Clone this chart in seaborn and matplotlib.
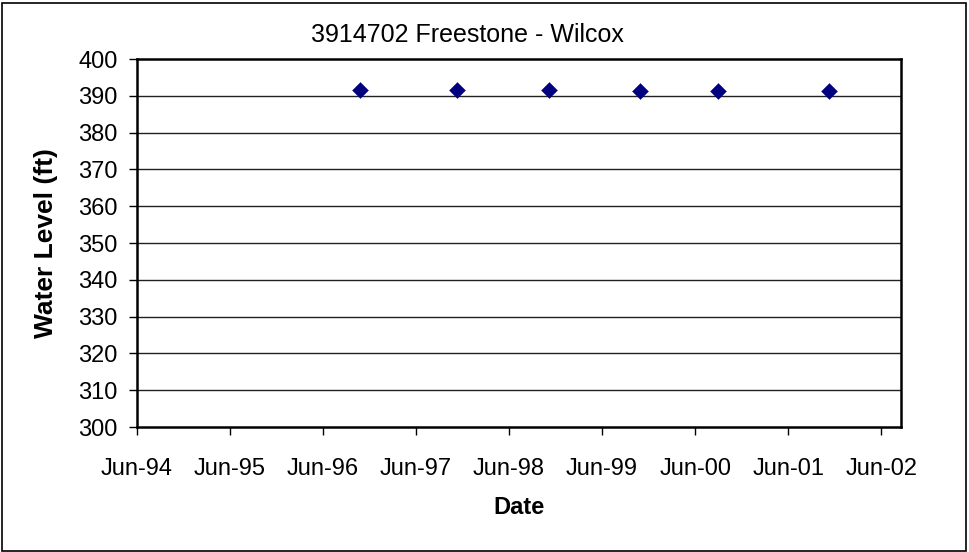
import matplotlib
matplotlib.use("Agg")
import matplotlib.pyplot as plt
import seaborn as sns
import pandas as pd
from matplotlib.patches import Rectangle

dates = ["1996-10-24", "1997-11-08", "1998-11-05", "1999-10-29", "2000-08-29", "2001-11-07"]
levels = [391.5, 391.5, 391.5, 391.3, 391.2, 391.2]
tick_dates = ["1994-06-01", "1995-06-01", "1996-06-01", "1997-06-01", "1998-06-01",
              "1999-06-01", "2000-06-01", "2001-06-01", "2002-06-01"]
tick_labels = ["Jun-94", "Jun-95", "Jun-96", "Jun-97", "Jun-98", "Jun-99", "Jun-00", "Jun-01", "Jun-02"]
x_end = "2002-08-18"
y_ticks = list(range(300, 401, 10))

df = pd.DataFrame({"Date": pd.to_datetime(dates), "Level": levels})

sns.set_style("white")
plt.rcParams["font.family"] = ["Liberation Sans", "DejaVu Sans"]
plt.rcParams["text.color"] = "black"
plt.rcParams["axes.labelcolor"] = "black"
plt.rcParams["xtick.color"] = "black"
plt.rcParams["ytick.color"] = "black"

W, H = 969, 552
fig = plt.figure(figsize=(W / 100, H / 100), dpi=100)
L, R, T, B = 137, 901, 59, 427
ax = fig.add_axes([L / W, 1 - B / H, (R - L) / W, (B - T) / H])

sns.scatterplot(data=df, x="Date", y="Level", marker="D", s=66, color="#000080",
                edgecolor="#000080", linewidth=0.3, ax=ax, zorder=3, legend=False)

td = pd.to_datetime(tick_dates)
ax.set_xlim(td[0], pd.to_datetime(x_end))
ax.set_ylim(300, 400)
ax.set_xticks(td)
ax.set_xticklabels(tick_labels)
ax.set_yticks(y_ticks)
for y in y_ticks[1:-1]:
    ax.axhline(y, color="#222222", linewidth=1.0, zorder=1)

for s in ["top", "right", "left", "bottom"]:
    ax.spines[s].set_visible(True)
    ax.spines[s].set_color("black")
    ax.spines[s].set_linewidth(1.8)

ax.tick_params(axis="y", direction="out", length=6, width=1, labelsize=17, left=True, pad=8)
ax.tick_params(axis="x", direction="out", length=5.5, width=1, labelsize=17, bottom=True, pad=17)

ax.set_xlabel("Date", fontsize=17, fontweight="bold")
ax.set_ylabel("Water Level (ft)", fontsize=19, fontweight="bold")
ax.xaxis.label.set_va("center")
ax.yaxis.label.set_va("center")
ax.xaxis.set_label_coords((519 - L) / (R - L), (B - 507) / (B - T))
ax.yaxis.set_label_coords((46 - L) / (R - L), 0.5)

fig.text(467.5 / W, 1 - 35 / H, "3914702 Freestone - Wilcox", fontsize=18,
         ha="center", va="center")

fig.patches.append(Rectangle((1.5 / W, 1.5 / H), 964 / W, 548 / H, transform=fig.transFigure,
                             fill=False, edgecolor="black", linewidth=1.2))

fig.savefig("out.png", dpi=100)
